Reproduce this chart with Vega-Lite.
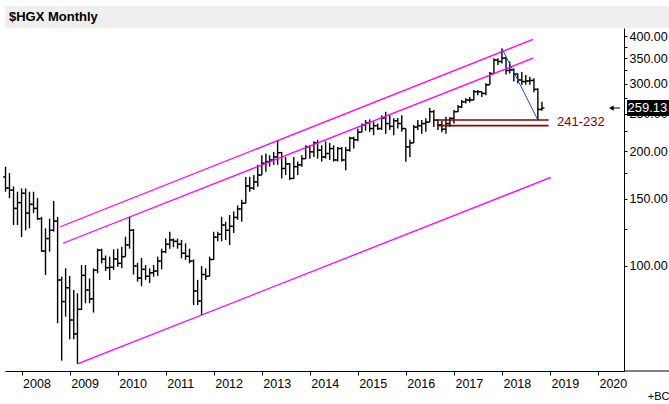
{
  "$schema": "https://vega.github.io/schema/vega-lite/v6.json",
  "padding": {"left": 2, "top": 6, "right": 0, "bottom": 0},
  "background": "white",
  "spacing": 0,
  "config": {"view": {"stroke": null}, "font": "Liberation Sans"},
  "datasets": {
    "bars": [
      {"d":"2007-09-01","o":171,"h":182,"l":156.5,"c":160},
      {"d":"2007-10-01","o":160,"h":175,"l":150.5,"c":158},
      {"d":"2007-11-01","o":158,"h":161.5,"l":128,"c":141.5},
      {"d":"2007-12-01","o":141.5,"h":156.5,"l":128,"c":146.5},
      {"d":"2008-01-01","o":146.5,"h":159.6,"l":119,"c":155},
      {"d":"2008-02-01","o":155,"h":159.6,"l":124,"c":137.5},
      {"d":"2008-03-01","o":137.5,"h":156.5,"l":125.5,"c":145},
      {"d":"2008-04-01","o":145,"h":156.5,"l":137.5,"c":141.5},
      {"d":"2008-05-01","o":141.5,"h":150.5,"l":132,"c":133},
      {"d":"2008-06-01","o":133,"h":134.5,"l":109,"c":109.4},
      {"d":"2008-07-01","o":109.4,"h":125.5,"l":94.7,"c":118},
      {"d":"2008-08-01","o":118,"h":133,"l":109,"c":124},
      {"d":"2008-09-01","o":124,"h":148,"l":123,"c":131},
      {"d":"2008-10-01","o":131,"h":134.5,"l":70.8,"c":91.9},
      {"d":"2008-11-01","o":91.9,"h":93.8,"l":56.5,"c":80.7},
      {"d":"2008-12-01","o":80.7,"h":98.6,"l":73.7,"c":87.7},
      {"d":"2009-01-01","o":87.7,"h":94.2,"l":64.3,"c":72.2},
      {"d":"2009-02-01","o":72.2,"h":86.5,"l":64.3,"c":66.4},
      {"d":"2009-03-01","o":66.4,"h":84.8,"l":55.4,"c":77},
      {"d":"2009-04-01","o":77,"h":100.6,"l":76.7,"c":94.5},
      {"d":"2009-05-01","o":94.5,"h":100.6,"l":79.9,"c":86.5},
      {"d":"2009-06-01","o":86.5,"h":92.8,"l":79.9,"c":82},
      {"d":"2009-07-01","o":82,"h":98.6,"l":75.5,"c":97.5},
      {"d":"2009-08-01","o":97.5,"h":111,"l":95.7,"c":110},
      {"d":"2009-09-01","o":110,"h":111,"l":101.6,"c":104.3},
      {"d":"2009-10-01","o":104.3,"h":106.5,"l":97,"c":99},
      {"d":"2009-11-01","o":99,"h":105.8,"l":91.9,"c":99.2},
      {"d":"2009-12-01","o":99.2,"h":110.6,"l":97.6,"c":104.3},
      {"d":"2010-01-01","o":104.3,"h":111,"l":99.6,"c":101.6},
      {"d":"2010-02-01","o":101.6,"h":112.3,"l":98.6,"c":105.8},
      {"d":"2010-03-01","o":105.8,"h":119.3,"l":105.8,"c":113.5},
      {"d":"2010-04-01","o":113.5,"h":134.5,"l":111,"c":124},
      {"d":"2010-05-01","o":124,"h":125,"l":95,"c":100},
      {"d":"2010-06-01","o":100,"h":102,"l":91,"c":93},
      {"d":"2010-07-01","o":93,"h":105,"l":88.5,"c":98},
      {"d":"2010-08-01","o":98,"h":100.5,"l":92,"c":94},
      {"d":"2010-09-01","o":94,"h":98.6,"l":90.3,"c":96},
      {"d":"2010-10-01","o":96,"h":100.6,"l":93.8,"c":97},
      {"d":"2010-11-01","o":97,"h":105.8,"l":94.2,"c":103},
      {"d":"2010-12-01","o":103,"h":111,"l":98,"c":109},
      {"d":"2011-01-01","o":109,"h":118,"l":108,"c":114},
      {"d":"2011-02-01","o":114,"h":123,"l":111,"c":117},
      {"d":"2011-03-01","o":117,"h":118,"l":112,"c":116},
      {"d":"2011-04-01","o":116,"h":118,"l":111,"c":114},
      {"d":"2011-05-01","o":114,"h":117,"l":104.7,"c":108},
      {"d":"2011-06-01","o":108,"h":114.7,"l":103.7,"c":106},
      {"d":"2011-07-01","o":106,"h":111,"l":101.6,"c":103},
      {"d":"2011-08-01","o":103,"h":104,"l":79,"c":86},
      {"d":"2011-09-01","o":86,"h":92,"l":79,"c":81},
      {"d":"2011-10-01","o":81,"h":100,"l":74.4,"c":95},
      {"d":"2011-11-01","o":95,"h":98.6,"l":91.9,"c":94},
      {"d":"2011-12-01","o":94,"h":105.8,"l":94,"c":104},
      {"d":"2012-01-01","o":104,"h":123,"l":103.7,"c":119},
      {"d":"2012-02-01","o":119,"h":123,"l":116,"c":121},
      {"d":"2012-03-01","o":121,"h":134.5,"l":116,"c":128},
      {"d":"2012-04-01","o":128,"h":130.5,"l":117,"c":124},
      {"d":"2012-05-01","o":124,"h":136,"l":113.5,"c":127},
      {"d":"2012-06-01","o":127,"h":139,"l":122,"c":134},
      {"d":"2012-07-01","o":134,"h":144,"l":132,"c":141},
      {"d":"2012-08-01","o":141,"h":149,"l":130.5,"c":146},
      {"d":"2012-09-01","o":146,"h":171,"l":146,"c":162},
      {"d":"2012-10-01","o":162,"h":171.2,"l":156.5,"c":160},
      {"d":"2012-11-01","o":160,"h":173,"l":158,"c":166},
      {"d":"2012-12-01","o":166,"h":184,"l":161.3,"c":173},
      {"d":"2013-01-01","o":173,"h":195,"l":173,"c":185.8},
      {"d":"2013-02-01","o":185.8,"h":197,"l":176.6,"c":187.6},
      {"d":"2013-03-01","o":187.6,"h":195,"l":182,"c":189.5},
      {"d":"2013-04-01","o":189.5,"h":199,"l":184,"c":193},
      {"d":"2013-05-01","o":193,"h":214,"l":184,"c":198},
      {"d":"2013-06-01","o":198,"h":199,"l":169.5,"c":180},
      {"d":"2013-07-01","o":180,"h":193,"l":173,"c":185},
      {"d":"2013-08-01","o":185,"h":186,"l":168,"c":169.5},
      {"d":"2013-09-01","o":169.5,"h":193,"l":169,"c":182},
      {"d":"2013-10-01","o":182,"h":187.6,"l":173,"c":184},
      {"d":"2013-11-01","o":184,"h":195,"l":182,"c":191},
      {"d":"2013-12-01","o":191,"h":207,"l":191,"c":205},
      {"d":"2014-01-01","o":205,"h":207,"l":191,"c":199},
      {"d":"2014-02-01","o":199,"h":212,"l":193,"c":210},
      {"d":"2014-03-01","o":210,"h":214,"l":191,"c":201},
      {"d":"2014-04-01","o":201,"h":207,"l":187.6,"c":193},
      {"d":"2014-05-01","o":193,"h":212,"l":191,"c":197},
      {"d":"2014-06-01","o":197,"h":210,"l":189.5,"c":203},
      {"d":"2014-07-01","o":203,"h":207,"l":187.6,"c":189.5},
      {"d":"2014-08-01","o":189.5,"h":205,"l":187.6,"c":203},
      {"d":"2014-09-01","o":203,"h":205,"l":187.6,"c":189.5},
      {"d":"2014-10-01","o":189.5,"h":205,"l":178,"c":201},
      {"d":"2014-11-01","o":201,"h":218,"l":199,"c":216},
      {"d":"2014-12-01","o":216,"h":218,"l":203,"c":214},
      {"d":"2015-01-01","o":214,"h":229,"l":212,"c":224},
      {"d":"2015-02-01","o":224,"h":236,"l":224,"c":234},
      {"d":"2015-03-01","o":234,"h":241,"l":226,"c":237},
      {"d":"2015-04-01","o":237,"h":242,"l":224.5,"c":229},
      {"d":"2015-05-01","o":229,"h":238.5,"l":220,"c":233},
      {"d":"2015-06-01","o":233,"h":236,"l":227,"c":229},
      {"d":"2015-07-01","o":229,"h":248,"l":227,"c":244},
      {"d":"2015-08-01","o":244,"h":253.5,"l":222,"c":236},
      {"d":"2015-09-01","o":236,"h":248,"l":227,"c":232},
      {"d":"2015-10-01","o":232,"h":243.5,"l":220,"c":240},
      {"d":"2015-11-01","o":240,"h":244,"l":229,"c":236},
      {"d":"2015-12-01","o":236,"h":248,"l":224.5,"c":229},
      {"d":"2016-01-01","o":229,"h":229,"l":187.5,"c":205},
      {"d":"2016-02-01","o":205,"h":214,"l":193,"c":210},
      {"d":"2016-03-01","o":210,"h":234,"l":210,"c":231},
      {"d":"2016-04-01","o":231,"h":241,"l":227,"c":233},
      {"d":"2016-05-01","o":233,"h":241,"l":222,"c":236},
      {"d":"2016-06-01","o":236,"h":243.5,"l":224.5,"c":238},
      {"d":"2016-07-01","o":238,"h":259,"l":238,"c":253.5},
      {"d":"2016-08-01","o":253.5,"h":256,"l":231,"c":241},
      {"d":"2016-09-01","o":241,"h":242,"l":227,"c":234},
      {"d":"2016-10-01","o":234,"h":240,"l":224,"c":228},
      {"d":"2016-11-01","o":228,"h":246,"l":222,"c":236},
      {"d":"2016-12-01","o":236,"h":245,"l":231,"c":243.5},
      {"d":"2017-01-01","o":243.5,"h":256,"l":236,"c":253.5},
      {"d":"2017-02-01","o":253.5,"h":264,"l":253,"c":261},
      {"d":"2017-03-01","o":261,"h":272,"l":259,"c":269},
      {"d":"2017-04-01","o":269,"h":275,"l":266.5,"c":272},
      {"d":"2017-05-01","o":272,"h":277,"l":268,"c":272},
      {"d":"2017-06-01","o":272,"h":289,"l":272,"c":286},
      {"d":"2017-07-01","o":286,"h":289,"l":280,"c":286},
      {"d":"2017-08-01","o":286,"h":286,"l":277,"c":283},
      {"d":"2017-09-01","o":283,"h":301,"l":280,"c":298},
      {"d":"2017-10-01","o":298,"h":322,"l":298,"c":319},
      {"d":"2017-11-01","o":319,"h":350,"l":319,"c":346},
      {"d":"2017-12-01","o":346,"h":350,"l":336,"c":343},
      {"d":"2018-01-01","o":343,"h":371,"l":339,"c":350},
      {"d":"2018-02-01","o":350,"h":353,"l":317,"c":325},
      {"d":"2018-03-01","o":325,"h":343,"l":319,"c":326},
      {"d":"2018-04-01","o":326,"h":329,"l":304,"c":318},
      {"d":"2018-05-01","o":318,"h":319,"l":301,"c":307},
      {"d":"2018-06-01","o":307,"h":322,"l":298,"c":304},
      {"d":"2018-07-01","o":304,"h":316,"l":298,"c":305},
      {"d":"2018-08-01","o":305,"h":313,"l":298,"c":306},
      {"d":"2018-09-01","o":306,"h":310,"l":285,"c":290},
      {"d":"2018-10-01","o":290,"h":292,"l":241,"c":257},
      {"d":"2018-11-01","o":257,"h":269,"l":255,"c":259.13}
    ],
    "channel": [
      {"g":"upper","d":"2008-10-21","v":126.7},
      {"g":"upper","d":"2018-08-25","v":392},
      {"g":"middle","d":"2008-11-11","v":114.7},
      {"g":"middle","d":"2018-08-25","v":350},
      {"g":"lower","d":"2009-03-01","v":55.4},
      {"g":"lower","d":"2019-01-08","v":170.6}
    ],
    "drop": [
      {"d":"2018-01-01","v":371},
      {"d":"2018-10-01","v":241}
    ],
    "support": [
      {"g":"top","d":"2016-08-26","v":241},
      {"g":"top","d":"2018-12-22","v":241},
      {"g":"bottom","d":"2016-08-26","v":233},
      {"g":"bottom","d":"2018-12-22","v":233}
    ]
  },
  "vconcat": [
    {
      "width": 664,
      "height": 22,
      "view": {"fill": "#EFEFEF", "stroke": null},
      "data": {"values": [{"t": "$HGX Monthly", "p": 0}]},
      "mark": {"type": "text", "align": "left", "baseline": "middle", "dx": 4, "fontSize": 13, "fontWeight": "bold", "color": "#000000"},
      "encoding": {
        "x": {"field": "p", "type": "quantitative", "scale": {"domain": [0, 1]}, "axis": null},
        "text": {"field": "t"}
      }
    },
    {
      "width": 619,
      "height": 343,
      "layer": [
        {
          "data": {"name": "bars"},
          "mark": {"type": "rule", "color": "#000000", "strokeWidth": 1.4},
          "encoding": {
            "x": {"field": "d", "type": "temporal", "title": "+BC",
                  "scale": {"type": "utc", "domain": [{"year": 2007, "month": 8, "date": 28, "utc": true}, {"year": 2020, "month": 7, "date": 17, "utc": true}]},
                  "axis": {"titleX": 664, "titleY": 25, "titleAlign": "right", "titleBaseline": "middle", "titleFontSize": 11, "titleFontWeight": "normal", "titleColor": "#000000",
                           "format": "%Y", "tickCount": {"interval": "year", "step": 1}, "labelAlign": "left", "labelOffset": 1, "labelPadding": 2, "labelFontSize": 12.5, "labelColor": "#000000",
                           "tickSize": 4, "tickColor": "#000000", "domainColor": "#000000", "grid": false, "labelOverlap": false, "labelFlush": false, "labelBound": false}},
            "y": {"field": "l", "type": "quantitative", "title": null,
                  "scale": {"type": "log", "domain": [53.1, 419.8], "nice": false},
                  "axis": {"orient": "right", "values": [100, 125, 150, 175, 200, 225, 250, 275, 300, 325, 350, 375, 400],
                           "labelExpr": "datum.value % 50 == 0 ? format(datum.value, '.2f') : ''", "tickSize": 3, "labelPadding": 2, "labelFontSize": 12.5,
                           "labelColor": "#000000", "tickColor": "#000000", "domainColor": "#000000", "grid": false, "labelBaseline": "middle", "labelOverlap": false, "labelFlush": false, "labelBound": false}},
            "y2": {"field": "h"}
          }
        },
        {
          "data": {"name": "bars"},
          "mark": {"type": "rule", "color": "#000000", "strokeWidth": 1.4, "xOffset": -2.5},
          "encoding": {
            "x": {"field": "d", "type": "temporal", "title": "+BC", "scale": {"type": "utc", "domain": [{"year": 2007, "month": 8, "date": 28, "utc": true}, {"year": 2020, "month": 7, "date": 17, "utc": true}]}},
            "x2": {"field": "d"},
            "y": {"field": "o", "type": "quantitative", "title": null, "scale": {"type": "log", "domain": [53.1, 419.8], "nice": false}}
          }
        },
        {
          "data": {"name": "bars"},
          "mark": {"type": "rule", "color": "#000000", "strokeWidth": 1.4, "x2Offset": 2.5},
          "encoding": {
            "x": {"field": "d", "type": "temporal", "title": "+BC", "scale": {"type": "utc", "domain": [{"year": 2007, "month": 8, "date": 28, "utc": true}, {"year": 2020, "month": 7, "date": 17, "utc": true}]}},
            "x2": {"field": "d"},
            "y": {"field": "c", "type": "quantitative", "title": null, "scale": {"type": "log", "domain": [53.1, 419.8], "nice": false}}
          }
        },
        {
          "data": {"name": "channel"},
          "mark": {"type": "line", "color": "#FF00FF", "strokeWidth": 1.3},
          "encoding": {
            "x": {"field": "d", "type": "temporal", "title": "+BC", "scale": {"type": "utc", "domain": [{"year": 2007, "month": 8, "date": 28, "utc": true}, {"year": 2020, "month": 7, "date": 17, "utc": true}]}},
            "y": {"field": "v", "type": "quantitative", "title": null, "scale": {"type": "log", "domain": [53.1, 419.8], "nice": false}},
            "detail": {"field": "g"}
          }
        },
        {
          "data": {"name": "drop"},
          "mark": {"type": "line", "color": "#2244FF", "strokeWidth": 1},
          "encoding": {
            "x": {"field": "d", "type": "temporal", "title": "+BC", "scale": {"type": "utc", "domain": [{"year": 2007, "month": 8, "date": 28, "utc": true}, {"year": 2020, "month": 7, "date": 17, "utc": true}]}},
            "y": {"field": "v", "type": "quantitative", "title": null, "scale": {"type": "log", "domain": [53.1, 419.8], "nice": false}}
          }
        },
        {
          "data": {"name": "support"},
          "mark": {"type": "line", "color": "#8B0000", "strokeWidth": 1.6},
          "encoding": {
            "x": {"field": "d", "type": "temporal", "title": "+BC", "scale": {"type": "utc", "domain": [{"year": 2007, "month": 8, "date": 28, "utc": true}, {"year": 2020, "month": 7, "date": 17, "utc": true}]}},
            "y": {"field": "v", "type": "quantitative", "title": null, "scale": {"type": "log", "domain": [53.1, 419.8], "nice": false}},
            "detail": {"field": "g"}
          }
        },
        {
          "data": {"values": [{"d": "2019-02-23", "v": 238.6, "t": "241-232"}]},
          "mark": {"type": "text", "align": "left", "baseline": "middle", "color": "#8B0000", "fontSize": 13},
          "encoding": {
            "x": {"field": "d", "type": "temporal", "title": "+BC", "scale": {"type": "utc", "domain": [{"year": 2007, "month": 8, "date": 28, "utc": true}, {"year": 2020, "month": 7, "date": 17, "utc": true}]}},
            "y": {"field": "v", "type": "quantitative", "title": null, "scale": {"type": "log", "domain": [53.1, 419.8], "nice": false}},
            "text": {"field": "t"}
          }
        },
        {
          "data": {"values": [{"d1": "2020-04-12", "d2": "2020-06-16", "v": 259.13}]},
          "mark": {"type": "rule", "color": "#000000", "strokeWidth": 1},
          "encoding": {
            "x": {"field": "d1", "type": "temporal", "title": "+BC", "scale": {"type": "utc", "domain": [{"year": 2007, "month": 8, "date": 28, "utc": true}, {"year": 2020, "month": 7, "date": 17, "utc": true}]}},
            "x2": {"field": "d2"},
            "y": {"field": "v", "type": "quantitative", "title": null, "scale": {"type": "log", "domain": [53.1, 419.8], "nice": false}}
          }
        },
        {
          "data": {"values": [{"d": "2020-04-12", "v": 259.13}]},
          "mark": {"type": "point", "shape": "triangle-left", "filled": true, "color": "#000000", "size": 28, "opacity": 1},
          "encoding": {
            "x": {"field": "d", "type": "temporal", "title": "+BC", "scale": {"type": "utc", "domain": [{"year": 2007, "month": 8, "date": 28, "utc": true}, {"year": 2020, "month": 7, "date": 17, "utc": true}]}},
            "y": {"field": "v", "type": "quantitative", "title": null, "scale": {"type": "log", "domain": [53.1, 419.8], "nice": false}}
          }
        },
        {
          "data": {"values": [{"d1": "2020-08-09", "d2": "2021-06-24", "v1": 247, "v2": 272}]},
          "mark": {"type": "rect", "color": "#000000"},
          "encoding": {
            "x": {"field": "d1", "type": "temporal", "title": "+BC", "scale": {"type": "utc", "domain": [{"year": 2007, "month": 8, "date": 28, "utc": true}, {"year": 2020, "month": 7, "date": 17, "utc": true}]}},
            "x2": {"field": "d2"},
            "y": {"field": "v1", "type": "quantitative", "title": null, "scale": {"type": "log", "domain": [53.1, 419.8], "nice": false}},
            "y2": {"field": "v2"}
          }
        },
        {
          "data": {"values": [{"d": "2021-01-11", "v": 259.13, "t": "259.13"}]},
          "mark": {"type": "text", "align": "center", "baseline": "middle", "color": "#FFFFFF", "fontSize": 13},
          "encoding": {
            "x": {"field": "d", "type": "temporal", "title": "+BC", "scale": {"type": "utc", "domain": [{"year": 2007, "month": 8, "date": 28, "utc": true}, {"year": 2020, "month": 7, "date": 17, "utc": true}]}},
            "y": {"field": "v", "type": "quantitative", "title": null, "scale": {"type": "log", "domain": [53.1, 419.8], "nice": false}},
            "text": {"field": "t"}
          }
        },
        {
          "data": {"values": [{"d1": "2020-07-17", "d2": "2021-07-01", "v": 53.1}]},
          "mark": {"type": "rule", "color": "#000000", "strokeWidth": 1},
          "encoding": {
            "x": {"field": "d1", "type": "temporal", "title": "+BC", "scale": {"type": "utc", "domain": [{"year": 2007, "month": 8, "date": 28, "utc": true}, {"year": 2020, "month": 7, "date": 17, "utc": true}]}},
            "x2": {"field": "d2"},
            "y": {"field": "v", "type": "quantitative", "title": null, "scale": {"type": "log", "domain": [53.1, 419.8], "nice": false}}
          }
        }
      ]
    }
  ]
}
